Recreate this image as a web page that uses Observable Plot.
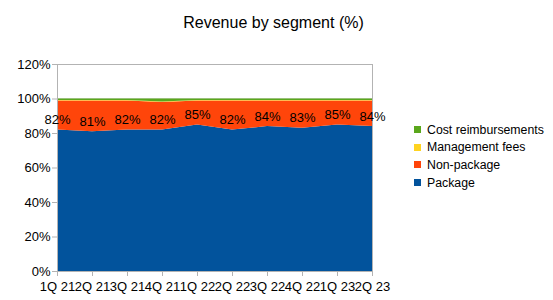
<!DOCTYPE html>
<html>
<head>
<meta charset="utf-8">
<script src="https://cdn.jsdelivr.net/npm/d3@7"></script>
<script src="https://cdn.jsdelivr.net/npm/@observablehq/plot@0.6"></script>
<style>
  html, body { margin: 0; padding: 0; background: #fff; }
  #chart { position: relative; width: 553px; height: 300px; font-family: "Liberation Sans", Arial, sans-serif; color: #000; }
  #title { position: absolute; left: 0; top: 14.8px; width: 547px; text-align: center; font-size: 16px; line-height: 16px; }
  #plot { position: absolute; left: 0; top: 0; }
  #legend { position: absolute; left: 414px; top: 121px; font-size: 12.3px; }
  .item { display: flex; align-items: center; height: 17.6px; }
  .swatch { width: 7px; height: 7px; margin-right: 6px; }
</style>
</head>
<body>
<div id="chart">
  <div id="plot"></div>
  <div id="title">Revenue by segment (%)</div>
  <div id="legend"></div>
</div>
<script>
// Quarters along the x axis
const quarters = ["1Q 21", "2Q 21", "3Q 21", "4Q 21", "1Q 22", "2Q 22", "3Q 22", "4Q 22", "1Q 23", "2Q 23"];

// Share of revenue per segment, in percent
const packageShare        = [82, 81, 82, 82, 85, 82, 84, 83, 85, 84];
const nonPackageShare     = [16.9, 17.9, 16.9, 16.0, 13.9, 16.9, 14.9, 15.9, 13.9, 14.9];
const managementFeesShare = [0.3, 0.3, 0.3, 0.3, 0.3, 0.3, 0.3, 0.3, 0.3, 0.3];
const costReimbShare      = [0.8, 0.8, 0.8, 1.7, 0.8, 0.8, 0.8, 0.8, 0.8, 0.8];

// Stacking order, bottom to top
const segments = ["Package", "Non-package", "Management fees", "Cost reimbursements"];
const segmentColors = ["#02539c", "#ff450a", "#ffd320", "#5aa71c"];
const seriesValues = [packageShare, nonPackageShare, managementFeesShare, costReimbShare];

const yTicks = [0, 20, 40, 60, 80, 100, 120];

// Long-format table for the stacked areas
const rows = segments.flatMap((seg, s) =>
  quarters.map((q, i) => ({quarter: q, segment: seg, value: seriesValues[s][i]}))
);
const packageRows = quarters.map((q, i) => ({quarter: q, value: packageShare[i]}));

const chart = Plot.plot({
  width: 553,
  height: 300,
  marginTop: 64,
  marginBottom: 29,
  marginLeft: 57,
  marginRight: 181,
  style: {fontFamily: "'Liberation Sans', Arial, sans-serif", fontSize: "13px", color: "#000", background: "transparent"},
  x: {type: "point", domain: quarters, padding: 0, label: null},
  y: {domain: [0, 120], ticks: yTicks, label: null},
  color: {domain: segments, range: segmentColors},
  marks: [
    Plot.gridY(yTicks, {stroke: "#b3b3b3", strokeOpacity: 1}),
    Plot.areaY(rows, {x: "quarter", y: "value", fill: "segment", order: null}),
    Plot.frame({stroke: "#b3b3b3"}),
    Plot.axisY(yTicks, {
      tickSize: 5, tickPadding: 2, stroke: "#b3b3b3", fill: "#000",
      tickFormat: d => d + "%", fontSize: 13, label: null
    }),
    Plot.axisX({
      tickSize: 5, tickPadding: 5, stroke: "#b3b3b3", fill: "#000",
      fontSize: 13, label: null
    }),
    Plot.text(packageRows, {
      x: "quarter", y: "value", text: d => d.value + "%",
      dy: -10, fontSize: 13, fill: "#000"
    })
  ]
});
document.getElementById("plot").appendChild(chart);

// Legend, top entry is the top of the stack
const legend = document.getElementById("legend");
segments.slice().reverse().forEach((seg, i) => {
  const color = segmentColors[segments.length - 1 - i];
  const item = document.createElement("div");
  item.className = "item";
  item.innerHTML = `<span class="swatch" style="background:${color}"></span><span>${seg}</span>`;
  legend.appendChild(item);
});
</script>
</body>
</html>
